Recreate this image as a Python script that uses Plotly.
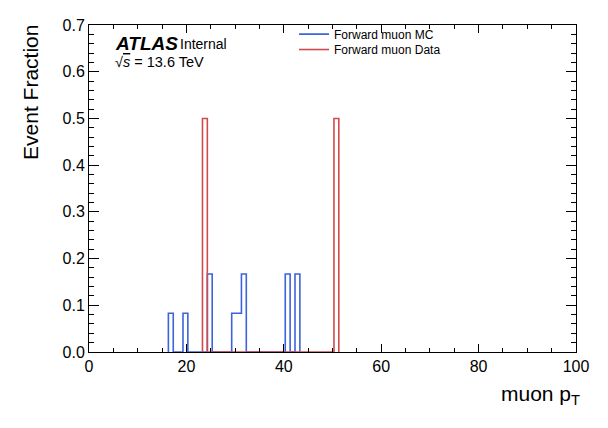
import plotly.graph_objects as go

# ---- data ----
bin_width = 1.0
mc_bin_low = [16.3, 19.3, 24.3, 29.3, 30.3, 31.3, 40.3, 42.3]
mc_fraction = [0.083, 0.083, 0.167, 0.083, 0.083, 0.167, 0.167, 0.167]
data_bin_low = [23.3, 50.3]
data_fraction = [0.5, 0.5]

x_ticks = [0, 20, 40, 60, 80, 100]
y_ticks = [0.0, 0.1, 0.2, 0.3, 0.4, 0.5, 0.6, 0.7]

mc_label = "Forward muon MC"
data_label = "Forward muon Data"
x_title = "muon p<sub>T</sub>"
y_title = "Event Fraction"

BLUE = "#3d63dd"
RED = "#d24b4b"
FONT = "Liberation Sans, Arial, Helvetica, sans-serif"


def step_path(lows, vals, width):
    xs, ys = [], []
    prev_hi = None
    for lo, v in sorted(zip(lows, vals)):
        hi = lo + width
        if prev_hi is None or abs(lo - prev_hi) > 1e-9:
            if prev_hi is not None:
                xs.append(prev_hi); ys.append(0)
            xs.append(lo); ys.append(0)
        xs += [lo, hi]
        ys += [v, v]
        prev_hi = hi
    xs.append(prev_hi); ys.append(0)
    return xs, ys


fig = go.Figure()
mx, my = step_path(mc_bin_low, mc_fraction, bin_width)
dx, dy = step_path(data_bin_low, data_fraction, bin_width)
fig.add_trace(go.Scatter(x=mx, y=my, mode="lines", name=mc_label, legend="legend",
                         line=dict(color=BLUE, width=1.6)))
fig.add_trace(go.Scatter(x=dx, y=dy, mode="lines", name=data_label, legend="legend2",
                         line=dict(color=RED, width=1.6)))

axis_common = dict(
    showgrid=False, zeroline=False, showline=True, linecolor="black",
    linewidth=1, mirror="ticks", ticks="inside", tickcolor="black",
    tickwidth=1, tickfont=dict(family=FONT, size=16, color="black"),
)
fig.update_xaxes(range=[0, 100], tickvals=x_ticks, ticklen=8,
                 minor=dict(dtick=5, tick0=0, ticks="inside", ticklen=4,
                            tickcolor="black", tickwidth=1),
                 **axis_common)
fig.update_yaxes(range=[0, 0.7], tickvals=y_ticks, tickformat=".1f", ticklen=10,
                 minor=dict(dtick=0.02, tick0=0, ticks="inside", ticklen=5,
                            tickcolor="black", tickwidth=1),
                 **axis_common)

legend_style = dict(xanchor="left", yanchor="middle", bgcolor="rgba(0,0,0,0)",
                    font=dict(family=FONT, size=12), itemwidth=30)

fig.update_layout(
    width=608, height=428,
    margin=dict(l=81, r=40, t=9, b=84),
    paper_bgcolor="white", plot_bgcolor="white",
    font=dict(family=FONT, color="black"),
    showlegend=True,
    legend=dict(x=0.421, y=0.972, **legend_style),
    legend2=dict(x=0.421, y=0.925, **legend_style),
    annotations=[
        dict(text="<b><i>ATLAS</i></b>", x=0.049, y=0.944, xref="paper", yref="paper",
             xanchor="left", yanchor="middle", showarrow=False,
             font=dict(family=FONT, size=19)),
        dict(text="Internal", x=0.182, y=0.942, xref="paper", yref="paper",
             xanchor="left", yanchor="middle", showarrow=False,
             font=dict(family=FONT, size=14)),
        dict(text="√<span style='text-decoration:overline'><i>s</i></span> = 13.6 TeV",
             x=0.049, y=0.886, xref="paper", yref="paper",
             xanchor="left", yanchor="middle", showarrow=False,
             font=dict(family=FONT, size=14.5)),
        dict(text=x_title, x=1.013, y=-0.131, xref="paper", yref="paper",
             xanchor="right", yanchor="middle", showarrow=False,
             font=dict(family=FONT, size=21)),
        dict(text=y_title, x=-0.119, y=1.005, xref="paper", yref="paper",
             xanchor="center", yanchor="top", textangle=-90, showarrow=False,
             font=dict(family=FONT, size=21)),
    ],
)

fig.write_html("out.html")
